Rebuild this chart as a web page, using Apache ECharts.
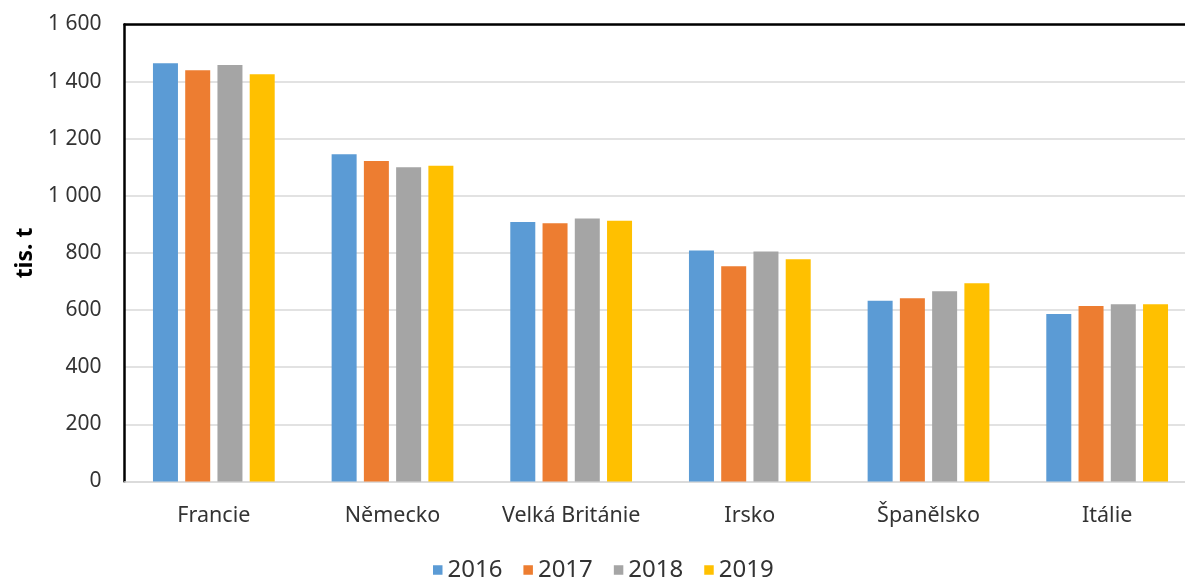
<!DOCTYPE html>
<html>
<head>
<meta charset="utf-8">
<script src="https://cdn.jsdelivr.net/npm/echarts@6/dist/echarts.min.js"></script>
<style>
html,body{margin:0;padding:0;background:#fff;overflow:hidden;}
#chart{width:1200px;height:579px;}
</style>
</head>
<body>
<div id="chart"></div>
<script>
var categories = ['Francie', 'Německo', 'Velká Británie', 'Irsko', 'Španělsko', 'Itálie'];
var years = ['2016', '2017', '2018', '2019'];
var v2016 = [1464, 1146, 908, 809, 633, 586];
var v2017 = [1440, 1122, 904, 753, 641, 614];
var v2018 = [1458, 1100, 921, 805, 666, 620];
var v2019 = [1426, 1105, 913, 778, 694, 620];
var yTicks = [0, 200, 400, 600, 800, 1000, 1200, 1400, 1600];
var colors = ['#5B9BD5', '#ED7D31', '#A5A5A5', '#FFC000'];

var seriesValues = [v2016, v2017, v2018, v2019];
var font = '"Noto Sans", "Open Sans", sans-serif';

function fmt(v) {
  var s = String(v);
  if (v >= 1000) s = s.slice(0, s.length - 3) + ' ' + s.slice(-3);
  return s;
}

var chart = echarts.init(document.getElementById('chart'));
chart.setOption({
  animation: false,
  color: colors,
  textStyle: { fontFamily: font },
  grid: { left: 124.5, top: 24.5, width: 1072, bottom: 97.6, containLabel: false },
  legend: {
    data: years,
    left: 428,
    top: 553,
    icon: 'rect',
    itemWidth: 9.5,
    itemHeight: 9.5,
    itemGap: 21,
    textStyle: { fontSize: 24, color: '#333', fontFamily: font }
  },
  xAxis: [{
    type: 'category',
    data: categories,
    position: 'bottom',
    axisLine: { show: true, lineStyle: { color: '#d9d9d9', width: 1.5 } },
    axisTick: { show: false },
    axisLabel: { interval: 0, fontSize: 21.5, color: '#333', margin: 23, fontFamily: font }
  }, {
    type: 'category',
    data: categories,
    position: 'top',
    axisLine: { show: true, lineStyle: { color: '#000', width: 2.5 } },
    axisTick: { show: false },
    axisLabel: { show: false }
  }],
  yAxis: {
    type: 'value',
    min: yTicks[0],
    max: yTicks[yTicks.length - 1],
    interval: 200,
    name: 'tis. t',
    nameLocation: 'middle',
    nameGap: 86,
    nameRotate: 90,
    nameTextStyle: { fontSize: 23, fontWeight: 'bold', color: '#000', fontFamily: font },
    axisLine: { show: true, lineStyle: { color: '#000', width: 2.5 } },
    axisTick: { show: false },
    splitLine: { show: true, lineStyle: { color: '#d9d9d9', width: 1.5 } },
    axisLabel: { fontSize: 21, color: '#333', margin: 23, formatter: fmt, fontFamily: font }
  },
  series: years.map(function (y, i) {
    return {
      name: y,
      type: 'bar',
      xAxisIndex: 0,
      data: seriesValues[i],
      barWidth: 25,
      barGap: '29%',
      itemStyle: { color: colors[i] }
    };
  })
});
</script>
</body>
</html>
